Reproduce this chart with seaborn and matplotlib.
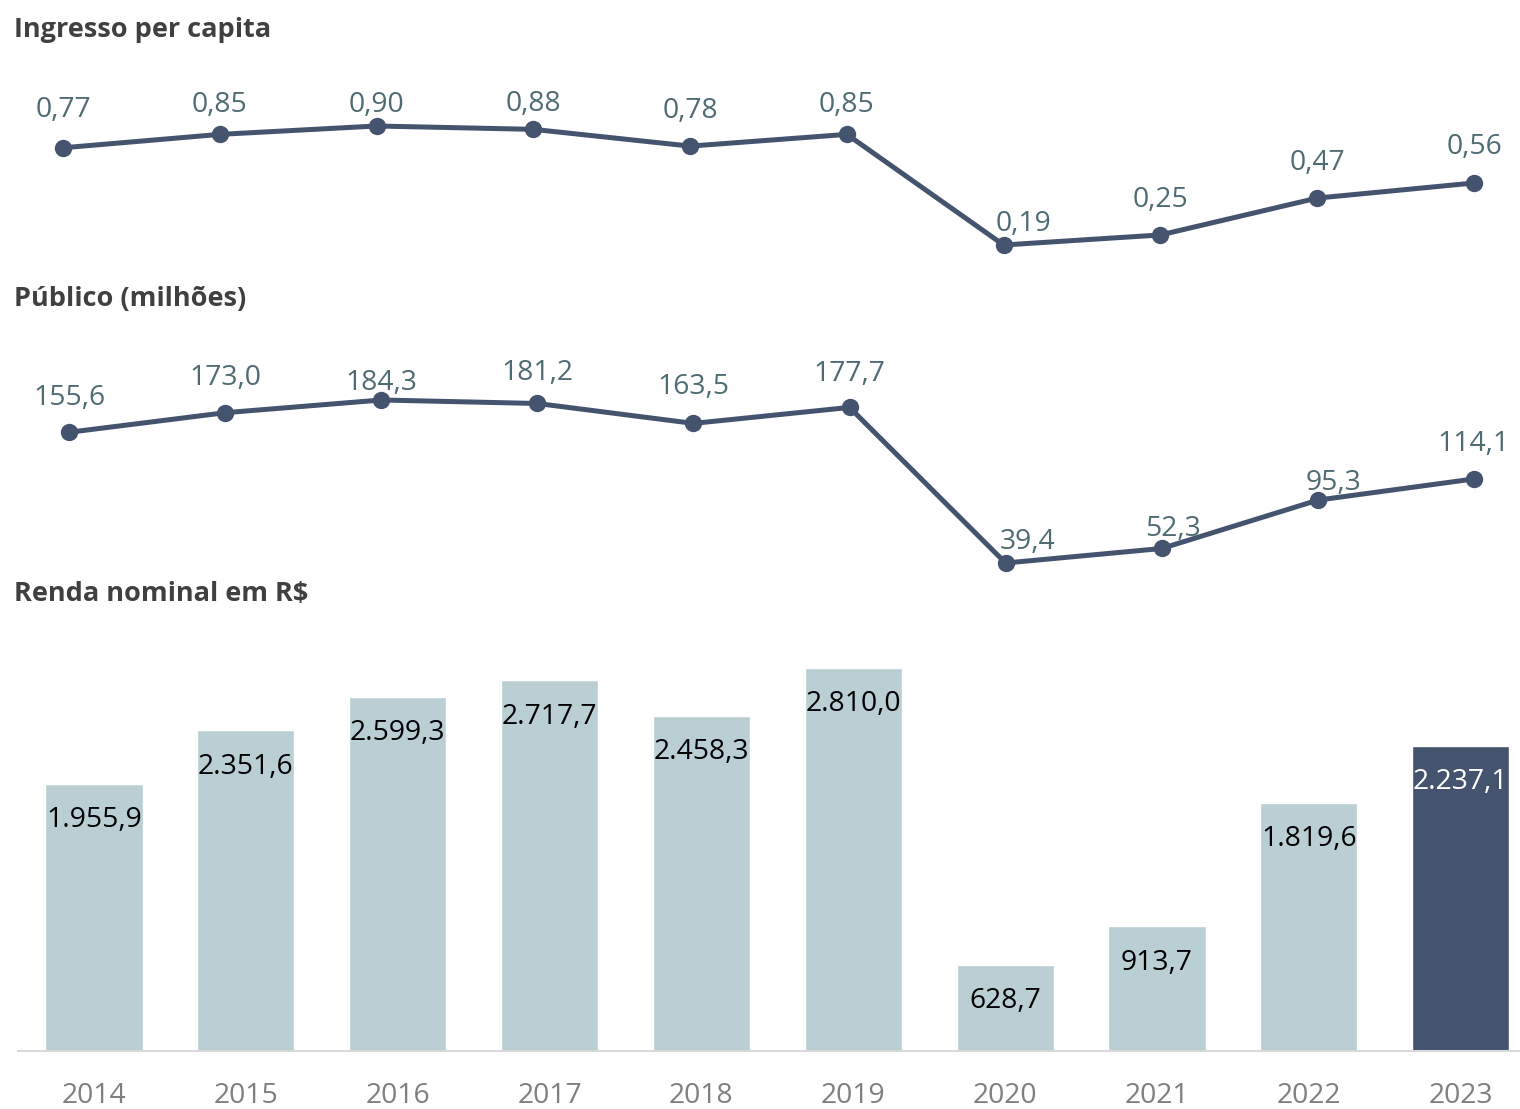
import seaborn as sns
import numpy as np
import pandas as pd
import matplotlib
matplotlib.use('Agg')
import matplotlib.pyplot as plt

years = ['2014', '2015', '2016', '2017', '2018', '2019', '2020', '2021', '2022', '2023']
ingresso = [0.77, 0.85, 0.90, 0.88, 0.78, 0.85, 0.19, 0.25, 0.47, 0.56]
publico = [155.6, 173.0, 184.3, 181.2, 163.5, 177.7, 39.4, 52.3, 95.3, 114.1]
renda = [1955.9, 2351.6, 2599.3, 2717.7, 2458.3, 2810.0, 628.7, 913.7, 1819.6, 2237.1]

# label offsets (points) - excel moved some labels around
ing_off = [(0, 27), (0, 21), (0, 15), (0, 18), (0, 25), (0, 21), (14, 15), (0, 25), (0, 25), (0, 26)]
pub_off = [(0, 25), (0, 25), (0, 12), (0, 22), (0, 26), (0, 24), (16, 15), (8, 14), (11, 12), (0, 25)]

LINE = '#44546f'
LBL = '#4f6b73'
LIGHT = '#b9cfd4'
FS = 20.3


def fmt(v, dec):
    s = f'{v:,.{dec}f}'
    return s.replace(',', 'X').replace('.', ',').replace('X', '.')


sns.set_theme(style='white')
plt.rcParams['font.family'] = ['Open Sans', 'DejaVu Sans']

W, H = 1520, 1109
fig = plt.figure(figsize=(15.2, 11.09), dpi=100)


def px_axes(x0, y0, x1, y1):
    # axes from pixel box (top-left origin)
    return fig.add_axes([x0 / W, 1 - y1 / H, (x1 - x0) / W, (y1 - y0) / H])


def line_panel(ax, vals, offs, dec):
    df = pd.DataFrame({'i': np.arange(len(vals)), 'v': vals})
    sns.lineplot(data=df, x='i', y='v', ax=ax, color=LINE, lw=3.6, marker='o',
                 markersize=12.5, markeredgewidth=0, markeredgecolor=LINE)
    for i, v in enumerate(vals):
        ax.annotate(fmt(v, dec), (i, v), xytext=offs[i], textcoords='offset points',
                    ha='center', va='center', fontsize=FS, color=LBL)
    ax.set_axis_off()


# top panel
ax1 = px_axes(0, 60, W, 260)
line_panel(ax1, ingresso, ing_off, 2)
ax1.set_xlim(-63 / 156.78, (W - 63) / 156.78)
ax1.set_ylim(0.19 - 15 / 167.6, 0.90 + 66 / 167.6)

# middle panel
ax2 = px_axes(0, 340, W, 580)
line_panel(ax2, publico, pub_off, 1)
ax2.set_xlim(-69 / 156.1, (W - 69) / 156.1)
ax2.set_ylim(39.4 - 17 / 1.125, 184.3 + 60 / 1.125)

# bars
ax3 = px_axes(18, 642, W, 1051)
colors = [LIGHT] * (len(years) - 1) + [LINE]
sns.barplot(x=years, y=renda, hue=years, palette=colors, legend=False, ax=ax3,
            width=0.64, saturation=1)
for i, v in enumerate(renda):
    ax3.annotate(fmt(v, 1), (i, v), xytext=(0, -26), textcoords='offset points',
                 ha='center', va='center', fontsize=FS,
                 color='white' if i == len(renda) - 1 else 'black')
ax3.set_xlim(-0.5, 9.39)
ax3.set_ylim(0, 3000)
for s in ['top', 'right', 'left']:
    ax3.spines[s].set_visible(False)
ax3.spines['bottom'].set_color('#d9d9d9')
ax3.spines['bottom'].set_linewidth(1.5)
ax3.set_yticks([])
ax3.tick_params(axis='x', length=0, pad=22, labelsize=FS, labelcolor='#7f7f7f')
ax3.set_xlabel('')
ax3.set_ylabel('')

tkw = dict(fontsize=19.5, fontweight='bold', color='#404040', ha='left', va='center')
fig.text(14 / W, 1 - 30 / H, 'Ingresso per capita', **tkw)
fig.text(14 / W, 1 - 299 / H, 'Público (milhões)', **tkw)
fig.text(14 / W, 1 - 594 / H, 'Renda nominal em R$', **tkw)

fig.savefig('out.png', dpi=100)
